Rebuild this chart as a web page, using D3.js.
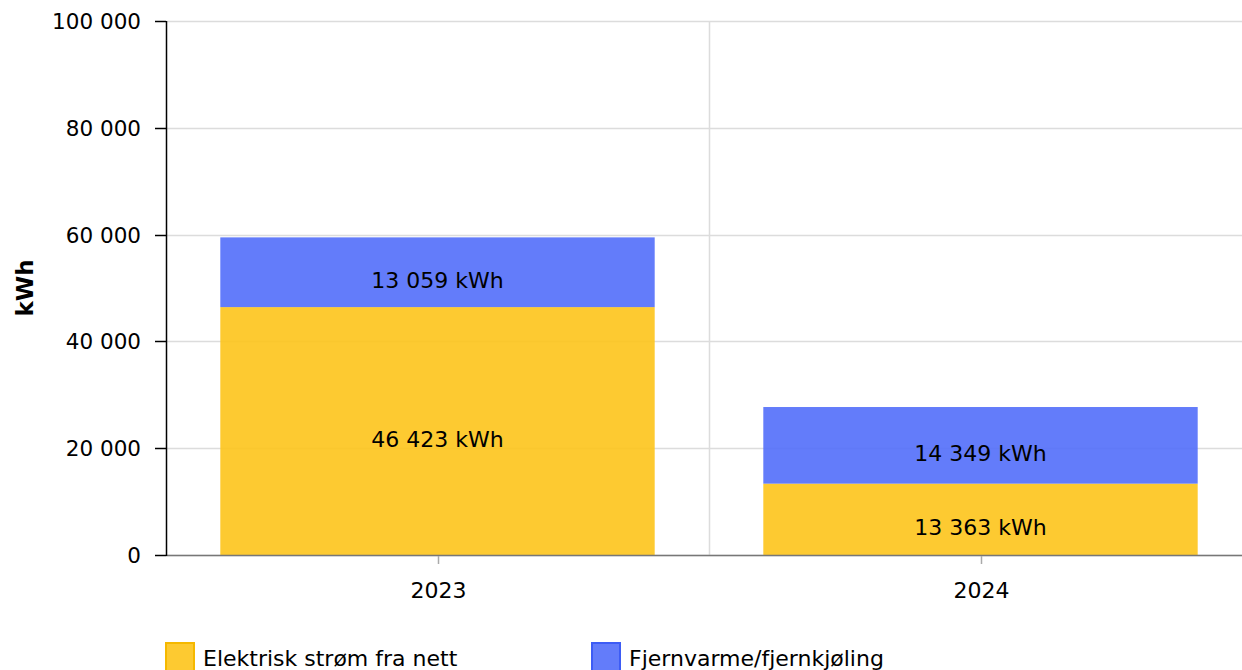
<!DOCTYPE html>
<meta charset="utf-8">
<html>

<head>
    <title>Energiforbruk</title>
    <style>
        body { margin: 0; background: #fff; }
        svg { display: block; font-family: "DejaVu Sans", Verdana, sans-serif; }
    </style>
</head>

<body>
    <div id="container"></div>

    <script src="https://d3js.org/d3.v7.min.js"></script>

    <script>
        // chart data
        const years = ["2023", "2024"];
        const seriesNames = ["Elektrisk strøm fra nett", "Fjernvarme/fjernkjøling"];
        const elektrisk = [46423, 13363];
        const fjernvarme = [13059, 14349];
        const yTicks = [0, 20000, 40000, 60000, 80000, 100000];
        const seriesColors = ["#fdc41b", "#526ef9"];
        const seriesStroke = ["#f5b800", "#3d5cf5"];

        const width = 1242,
            height = 670,
            fontSize = 22;

        // space as thousands separator
        const fmt = v => d3.format(",")(v).replace(/,/g, " ");

        const x = d3.scaleBand()
            .domain(years)
            .range([166, 1252])
            .paddingInner(0.2)
            .paddingOuter(0.1);

        const xGrid = d3.scaleBand().domain(years).range([166, 1252]);

        const y = d3.scaleLinear()
            .domain([0, 100000])
            .range([555, 21]);

        const svg = d3.select("#container").append("svg")
            .attr("width", width)
            .attr("height", height);

        // horizontal grid lines
        svg.append("g")
            .selectAll("line")
            .data(yTicks)
            .join("line")
            .attr("x1", 166)
            .attr("x2", width)
            .attr("y1", d => Math.round(y(d)) + 0.5)
            .attr("y2", d => Math.round(y(d)) + 0.5)
            .attr("stroke", "#dcdcdc")
            .attr("stroke-width", 1.5);

        // vertical grid line between the years
        svg.append("line")
            .attr("x1", Math.round(xGrid("2024")) + 0.5)
            .attr("x2", Math.round(xGrid("2024")) + 0.5)
            .attr("y1", y(100000))
            .attr("y2", y(0))
            .attr("stroke", "#dcdcdc")
            .attr("stroke-width", 1.5);

        // stacked data
        const rows = years.map((yr, i) => ({ year: yr, s0: elektrisk[i], s1: fjernvarme[i] }));
        const stacked = d3.stack().keys(["s0", "s1"])(rows);

        const layer = svg.append("g")
            .selectAll("g")
            .data(stacked)
            .join("g")
            .attr("fill", (d, i) => seriesColors[i])
            .attr("fill-opacity", 0.9);

        layer.selectAll("rect")
            .data(d => d)
            .join("rect")
            .attr("x", d => x(d.data.year))
            .attr("width", x.bandwidth())
            .attr("y", d => y(d[1]))
            .attr("height", d => y(d[0]) - y(d[1]));

        // value labels
        layer.selectAll("text")
            .data(d => d)
            .join("text")
            .attr("x", d => x(d.data.year) + x.bandwidth() / 2)
            .attr("y", d => (y(d[0]) + y(d[1])) / 2 + 16)
            .attr("text-anchor", "middle")
            .attr("fill", "#000")
            .attr("fill-opacity", 1)
            .attr("font-size", fontSize)
            .text(d => fmt(d[1] - d[0]) + " kWh");

        // x axis
        svg.append("line")
            .attr("x1", 166)
            .attr("x2", width)
            .attr("y1", 555.5)
            .attr("y2", 555.5)
            .attr("stroke", "#777")
            .attr("stroke-width", 1.5);

        const xt = svg.append("g")
            .selectAll("g")
            .data(years)
            .join("g")
            .attr("transform", d => `translate(${Math.round(x(d) + x.bandwidth() / 2) + 0.5},0)`);
        xt.append("line")
            .attr("y1", 556)
            .attr("y2", 564)
            .attr("stroke", "#aaa")
            .attr("stroke-width", 1.5);
        xt.append("text")
            .attr("y", 598)
            .attr("text-anchor", "middle")
            .attr("font-size", fontSize)
            .text(d => d);

        // y axis
        svg.append("line")
            .attr("x1", 166.5)
            .attr("x2", 166.5)
            .attr("y1", 21)
            .attr("y2", 556)
            .attr("stroke", "#000")
            .attr("stroke-width", 1.5);

        const yt = svg.append("g")
            .selectAll("g")
            .data(yTicks)
            .join("g")
            .attr("transform", d => `translate(0,${Math.round(y(d)) + 0.5})`);
        yt.append("line")
            .attr("x1", 155)
            .attr("x2", 166)
            .attr("stroke", "#000")
            .attr("stroke-width", 1.5);
        yt.append("text")
            .attr("x", 141)
            .attr("dy", "0.35em")
            .attr("text-anchor", "end")
            .attr("font-size", 21.5)
            .text(d => fmt(d));

        // y axis title
        svg.append("text")
            .attr("transform", "translate(33,288) rotate(-90)")
            .attr("text-anchor", "middle")
            .attr("font-size", 23)
            .attr("font-weight", "bold")
            .text("kWh");

        // legend
        const legendX = [166, 592];
        const legend = svg.append("g")
            .selectAll("g")
            .data(seriesNames)
            .join("g")
            .attr("transform", (d, i) => `translate(${legendX[i]},643)`);
        legend.append("rect")
            .attr("width", 28)
            .attr("height", 28)
            .attr("fill", (d, i) => seriesColors[i])
            .attr("fill-opacity", 0.9)
            .attr("stroke", (d, i) => seriesStroke[i])
            .attr("stroke-width", 2);
        legend.append("text")
            .attr("x", 37)
            .attr("y", 23)
            .attr("font-size", fontSize)
            .text(d => d);
    </script>
</body>

</html>
